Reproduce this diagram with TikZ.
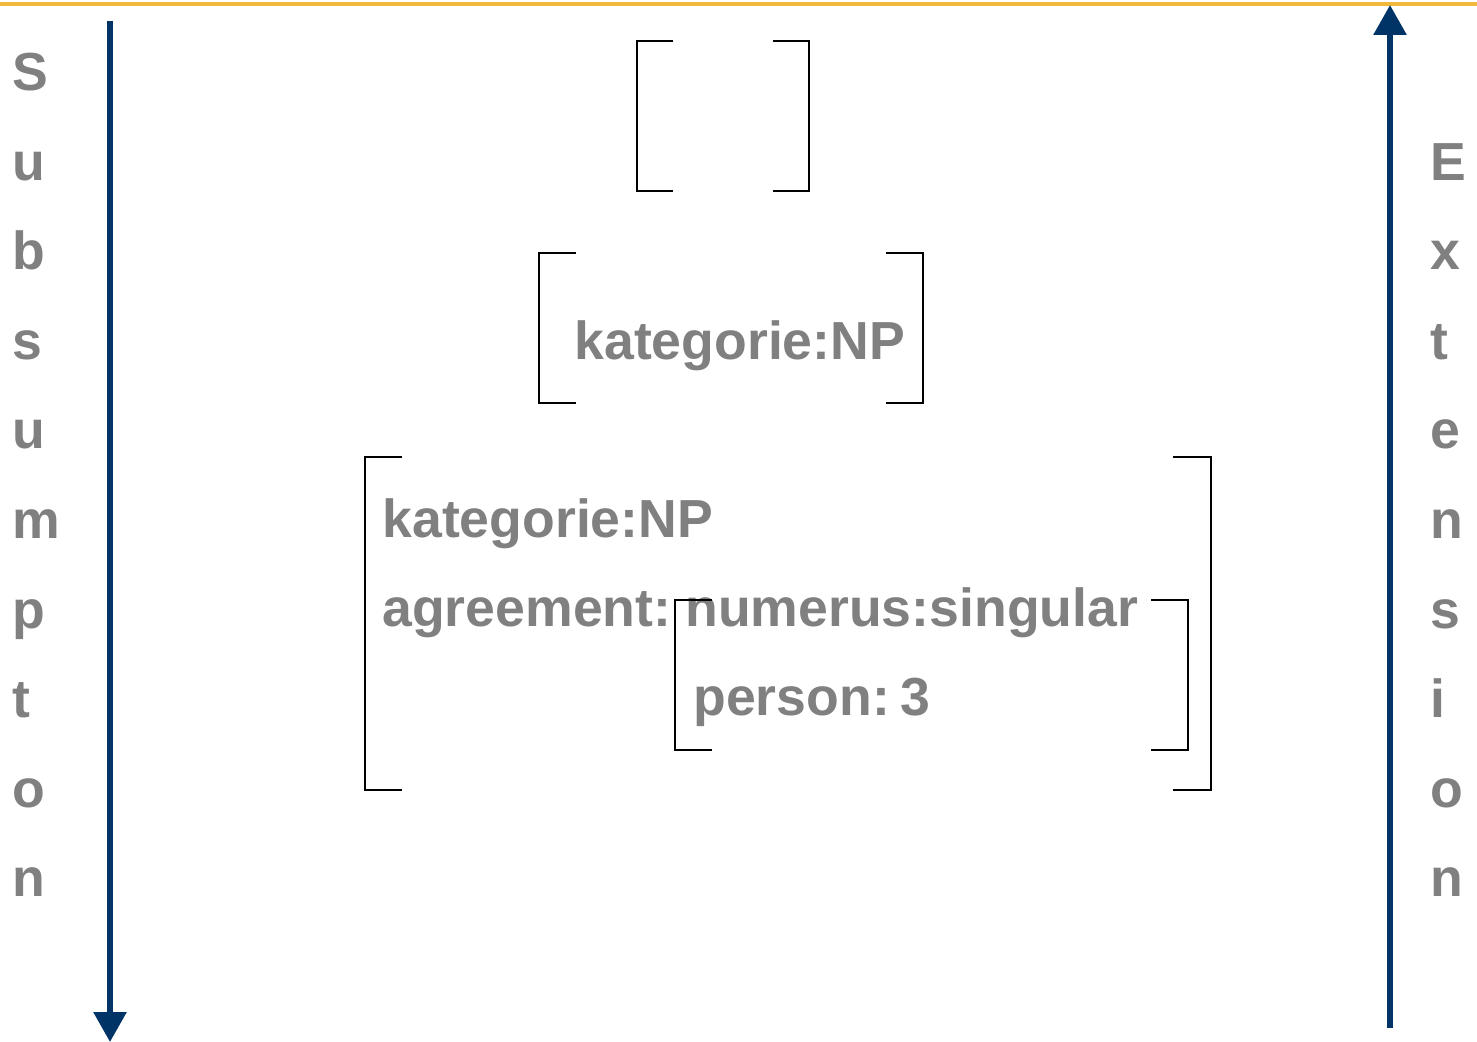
\documentclass[tikz,border=0pt]{standalone}
\usepackage{fontspec}
\setmainfont{Liberation Sans}
\usetikzlibrary{arrows.meta}
\definecolor{navy}{RGB}{0,51,102}
\definecolor{goldline}{RGB}{240,184,58}
\definecolor{txtgray}{RGB}{128,128,128}
\begin{document}
\begin{tikzpicture}[x=0.5pt,y=-0.5pt]
\tikzstyle{letter} = [anchor=base west,inner sep=0pt,text=txtgray,font=\fontsize{26.8}{30}\selectfont\bfseries] %lettres
\tikzstyle{feature} = [anchor=base west,inner sep=0pt,text=txtgray,font=\fontsize{26.8}{30}\selectfont\bfseries] %attributs
\tikzstyle{bracket} = [line width=0.65pt,black] %crochets
\tikzstyle{bigarrow} = [line width=3pt,navy,-{Triangle[width=16pt,length=15pt]}]
\useasboundingbox (0,0) rectangle (1477,1042);

%ligne du haut
\coordinate (topL) at (0,4);
\coordinate (topR) at (1477,4);
\draw[goldline,line width=1.6pt] (topL)--(topR);

%fleches
\coordinate (subStart) at (110,21);
\coordinate (subEnd) at (110,1042);
\coordinate (extStart) at (1390,1028);
\coordinate (extEnd) at (1390,5);
\draw[bigarrow] (subStart)--(subEnd);
\draw[bigarrow] (extStart)--(extEnd);

%lettres verticales
\foreach \l [count=\i] in {S,u,b,s,u,m,p,t,o,n}
  \node[letter] (sub\i) at (12,{91+89.5*(\i-1)}) {\l};
\foreach \l [count=\i] in {E,x,t,e,n,s,i,o,n}
  \node[letter] (ext\i) at (1430,{180.5+89.5*(\i-1)}) {\l};

%structure vide
\draw[bracket] (673,41)--(637,41)--(637,191)--(673,191);
\draw[bracket] (773,41)--(809,41)--(809,191)--(773,191);

%structure avec kategorie
\draw[bracket] (576,253)--(539,253)--(539,403)--(576,403);
\draw[bracket] (886,253)--(923,253)--(923,403)--(886,403);
\node[feature] (kat1) at (574,360) {kategorie:NP};

%structure complete
\draw[bracket] (402,457)--(365,457)--(365,790)--(402,790);
\draw[bracket] (1173,457)--(1211,457)--(1211,790)--(1173,790);
\node[feature] (kat2) at (382,538) {kategorie:NP};
\node[feature] (agr) at (382,626) {agreement:};
\node[feature] (num) at (685,626) {numerus:singular};
\node[feature] (pers) at (693,715) {person:\hspace{0.2em}3};

%agreement
\draw[bracket] (712,600)--(675,600)--(675,750)--(712,750);
\draw[bracket] (1151,600)--(1188,600)--(1188,750)--(1151,750);
\end{tikzpicture}
\end{document}
